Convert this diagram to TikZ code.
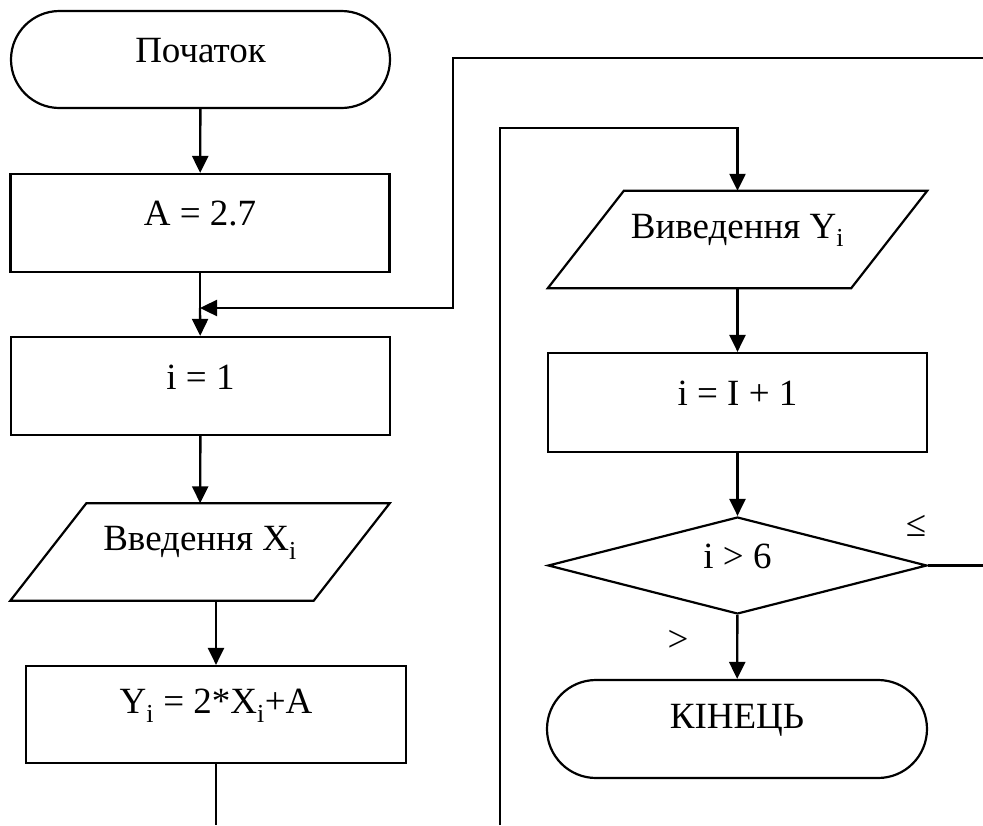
\documentclass[tikz,border=0pt]{standalone}
\usepackage{fontspec}
\setmainfont{Liberation Serif}
\usetikzlibrary{shapes.misc,shapes.geometric,arrows.meta}

\tikzset{
  every picture/.style={x=1pt,y=-1pt},
  shapeline/.style={draw=black,line width=2.2pt},
  terminal/.style={shapeline,rounded rectangle,inner sep=0pt,minimum width=379pt,minimum height=97pt},
  procbox/.style={shapeline,rectangle,inner sep=0pt,minimum width=379pt,minimum height=98pt},
  iobox/.style={rectangle,inner sep=0pt,minimum width=379pt,minimum height=97pt},
  decision/.style={shapeline,diamond,inner sep=0pt,minimum width=379pt,minimum height=97pt},
  lbl/.style={font=\fontsize{37}{41}\selectfont},
  inner/.style={label={[lbl,yshift=9pt]center:#1}},
  flow/.style={line width=2.4pt,-{Triangle[length=17pt,width=16pt]}},
  plain/.style={line width=2.4pt},
}

\newcommand{\slantbox}[1]{%
  \draw[shapeline,line join=miter] (#1.south west) -- ([xshift=76pt]#1.north west)
    -- (#1.north east) -- ([xshift=-76pt]#1.south east) -- cycle;}

\begin{document}
\begin{tikzpicture}
\useasboundingbox (0,0) rectangle (983,825);

% left column
\node[terminal,inner=Початок] (start) at (200.5,59.5) {};
\node[procbox,inner={A = 2.7}] (seta) at (200,223) {};
\node[procbox,inner={i = 1}] (seti) at (200.5,386) {};
\node[iobox,inner={Введення X\textsubscript{i}}] (readx) at (200,552) {};
\slantbox{readx}
\node[procbox,minimum width=380pt,minimum height=97pt,inner={Y\textsubscript{i} = 2*X\textsubscript{i}+A}] (calcy) at (216,714.5) {};

% right column
\node[iobox,inner={Виведення Y\textsubscript{i}}] (outy) at (737.5,239.5) {};
\slantbox{outy}
\node[procbox,minimum height=99pt,inner={i = I + 1}] (inci) at (737.5,402.5) {};
\node[decision,inner={i > 6}] (test) at (737.5,565.5) {};
\node[terminal,minimum width=380pt,minimum height=98pt,inner={КІНЕЦЬ}] (stop) at (737,729) {};

% branch labels
\node[lbl] (le) at (916,526) {≤};
\node[lbl] (gt) at (678,641) {>};

% loop coordinates
\coordinate (merge) at (200,308);
\coordinate (backR) at (983,58);
\coordinate (backC) at (453,58);
\coordinate (backB) at (453,308);
\coordinate (loopB) at (500,825);
\coordinate (loopT) at (500,128);
\coordinate (loopE) at (737.5,128);
\coordinate (yout) at (216,825);
\coordinate (testR) at (983,565.5);

% connectors
\draw[flow] (start) -- (seta);
\draw[plain] (seta) -- (merge);
\draw[flow] (merge) -- (seti);
\draw[flow] (backR) -- (backC) -- (backB) -- (merge);
\draw[flow] (seti) -- (readx);
\draw[flow] ([xshift=16pt]readx.south) -- ([xshift=16pt]readx.south |- calcy.north);
\draw[plain] (calcy) -- (yout);

\draw[flow] (loopB) -- (loopT) -- (loopE) -- (outy);
\draw[flow] (outy) -- (inci);
\draw[flow] (inci) -- (test);
\draw[flow] (test) -- (stop);
\draw[plain] (test.east) -- (testR);
\end{tikzpicture}
\end{document}
